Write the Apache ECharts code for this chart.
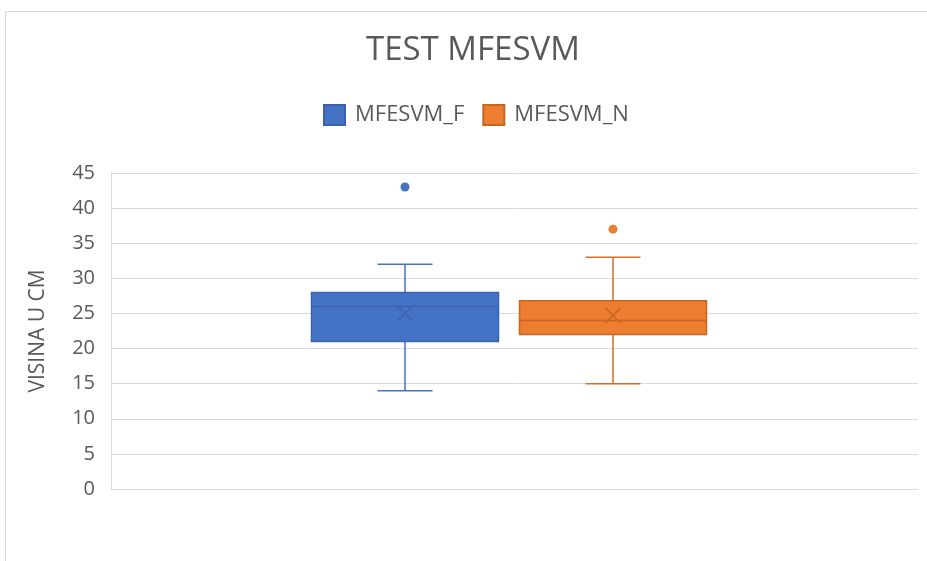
<!DOCTYPE html>
<html>
<head>
<meta charset="utf-8">
<script src="https://cdn.jsdelivr.net/npm/echarts@6/dist/echarts.min.js"></script>
<style>
  html, body { margin: 0; padding: 0; background: #fff; }
  #chart { width: 927px; height: 561px; }
</style>
</head>
<body>
<div id="chart"></div>
<script>
"use strict";

var seriesNames = ['MFESVM_F', 'MFESVM_N'];
// [min, Q1, median, Q3, max]
var boxF = [14, 21, 26, 28, 32];
var boxN = [15, 22, 24, 26.8, 33];
var meanValues = [25, 24.7];
var outlierF = [43];
var outlierN = [37];
var yTicks = [0, 45, 5];

var fills = ['#4472C4', '#ED7D31'];
var edges = ['#3A63AC', '#C8651F'];
var whiskers = ['#4472C4', '#D46E28'];

var font = '"Open Sans", "Liberation Sans", sans-serif';
var textColor = '#595959';

var makeBoxRender = function(idx) {
  return function(params, api) {
    var x = api.value(0);
    var lo = api.coord([x, api.value(1)]);
    var q1 = api.coord([x, api.value(2)]);
    var med = api.coord([x, api.value(3)]);
    var q3 = api.coord([x, api.value(4)]);
    var hi = api.coord([x, api.value(5)]);
    var cx = lo[0];
    var half = 93.5;
    var cap = 27.5;
    var wStyle = { stroke: whiskers[idx], lineWidth: 1.5 };
    var eStyle = { stroke: edges[idx], lineWidth: 1.5 };
    return {
      type: 'group',
      children: [
        { type: 'line', shape: { x1: cx, y1: q1[1], x2: cx, y2: lo[1] }, style: wStyle },
        { type: 'line', shape: { x1: cx, y1: q3[1], x2: cx, y2: hi[1] }, style: wStyle },
        { type: 'line', shape: { x1: cx - cap, y1: lo[1], x2: cx + cap, y2: lo[1] }, style: wStyle },
        { type: 'line', shape: { x1: cx - cap, y1: hi[1], x2: cx + cap, y2: hi[1] }, style: wStyle },
        { type: 'rect', shape: { x: cx - half, y: q3[1], width: half * 2, height: q1[1] - q3[1] },
          style: { fill: fills[idx], stroke: edges[idx], lineWidth: 1.5 } },
        { type: 'line', shape: { x1: cx - half, y1: med[1], x2: cx + half, y2: med[1] }, style: eStyle }
      ]
    };
  };
};

var chart = echarts.init(document.getElementById('chart'));

var option = {
  animation: false,
  backgroundColor: '#fff',
  graphic: [{
    type: 'rect',
    shape: { x: 5.5, y: 11.5, width: 1000, height: 1000 },
    style: { fill: 'none', stroke: '#D9D9D9', lineWidth: 1 },
    silent: true
  }],
  title: {
    text: 'TEST MFESVM',
    left: 361,
    top: 29,
    textStyle: { fontFamily: font, fontSize: 33, fontWeight: 'normal', color: textColor }
  },
  legend: {
    data: seriesNames,
    top: 99,
    left: 318,
    icon: 'rect',
    itemWidth: 21,
    itemHeight: 20,
    itemGap: 18,
    textStyle: { fontFamily: font, fontSize: 22, color: textColor, padding: [0, 0, 0, 5] }
  },
  grid: [
    { left: 111, right: 9, top: 173, bottom: 72 },
    { left: 301, right: 210, top: 173, bottom: 72 }
  ],
  xAxis: [
    {
      type: 'category', gridIndex: 0, data: [''],
      axisLine: { show: true, lineStyle: { color: '#D9D9D9', width: 1 } },
      axisTick: { show: false }, axisLabel: { show: false }
    },
    {
      type: 'category', gridIndex: 1, data: seriesNames,
      axisLine: { show: false }, axisTick: { show: false }, axisLabel: { show: false }
    }
  ],
  yAxis: [
    {
      type: 'value', gridIndex: 0,
      min: yTicks[0], max: yTicks[1], interval: yTicks[2],
      name: 'VISINA U CM',
      nameLocation: 'middle',
      nameGap: 62,
      nameRotate: 90,
      nameTextStyle: { fontFamily: font, fontSize: 21, color: textColor },
      axisLine: { show: true, lineStyle: { color: '#D9D9D9', width: 1 } },
      axisTick: { show: false },
      axisLabel: { fontFamily: font, fontSize: 20, color: textColor, margin: 16 },
      splitLine: { lineStyle: { color: '#D9D9D9', width: 1 } }
    },
    {
      type: 'value', gridIndex: 1,
      min: yTicks[0], max: yTicks[1], interval: yTicks[2],
      axisLine: { show: false }, axisTick: { show: false },
      axisLabel: { show: false }, splitLine: { show: false }
    }
  ],
  series: [
    {
      name: seriesNames[0], type: 'custom', xAxisIndex: 1, yAxisIndex: 1,
      itemStyle: { color: fills[0], borderColor: edges[0], borderWidth: 1 },
      renderItem: makeBoxRender(0),
      encode: { x: 0, y: [1, 2, 3, 4, 5] },
      data: [[0].concat(boxF)]
    },
    {
      name: seriesNames[1], type: 'custom', xAxisIndex: 1, yAxisIndex: 1,
      itemStyle: { color: fills[1], borderColor: edges[1], borderWidth: 1 },
      renderItem: makeBoxRender(1),
      encode: { x: 0, y: [1, 2, 3, 4, 5] },
      data: [[1].concat(boxN)]
    },
    {
      name: seriesNames[0], type: 'scatter', xAxisIndex: 1, yAxisIndex: 1,
      symbol: 'circle', symbolSize: 9,
      itemStyle: { color: fills[0], opacity: 1 },
      data: outlierF.map(function(v) { return [0, v]; })
    },
    {
      name: seriesNames[1], type: 'scatter', xAxisIndex: 1, yAxisIndex: 1,
      symbol: 'circle', symbolSize: 9,
      itemStyle: { color: fills[1], opacity: 1 },
      data: outlierN.map(function(v) { return [1, v]; })
    },
    {
      name: seriesNames[0], type: 'scatter', xAxisIndex: 1, yAxisIndex: 1,
      symbol: 'path://M0,0L10,10M10,0L0,10', symbolSize: 15,
      itemStyle: { color: 'none', borderColor: edges[0], borderWidth: 1.5, opacity: 1 },
      data: [[0, meanValues[0]]]
    },
    {
      name: seriesNames[1], type: 'scatter', xAxisIndex: 1, yAxisIndex: 1,
      symbol: 'path://M0,0L10,10M10,0L0,10', symbolSize: 15,
      itemStyle: { color: 'none', borderColor: edges[1], borderWidth: 1.5, opacity: 1 },
      data: [[1, meanValues[1]]]
    }
  ]
};

chart.setOption(option);
</script>
</body>
</html>
